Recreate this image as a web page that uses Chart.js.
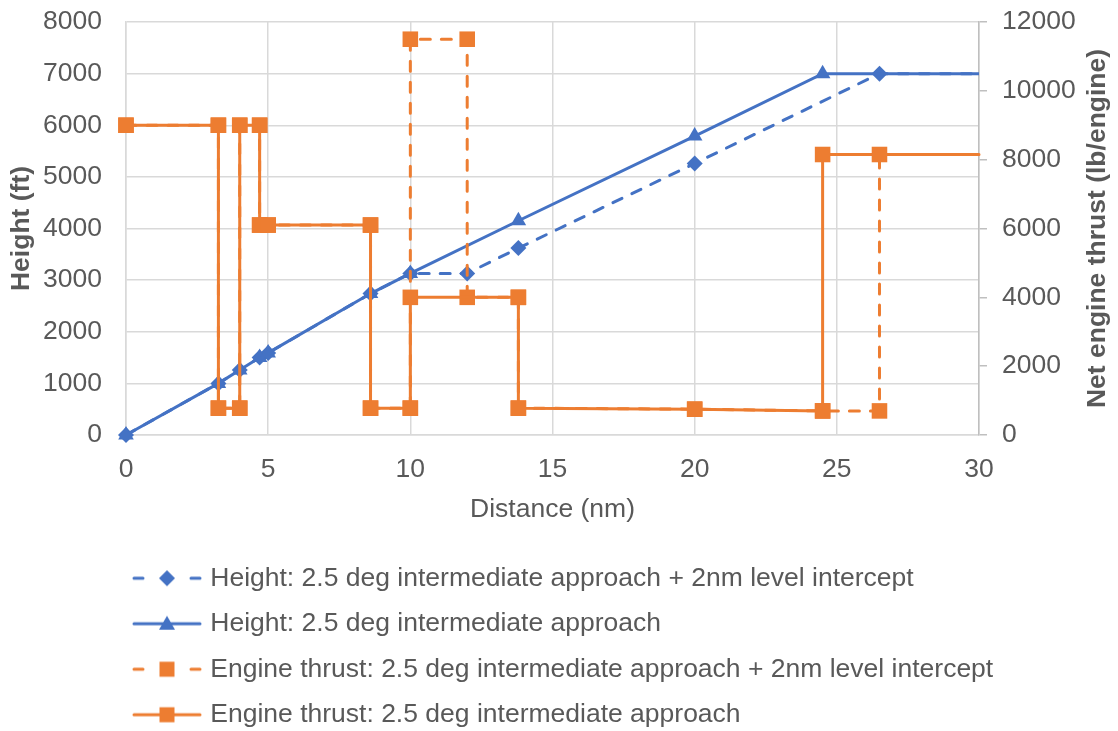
<!DOCTYPE html>
<html>
<head>
<meta charset="utf-8">
<script src="https://cdn.jsdelivr.net/npm/chart.js@4.4.1/dist/chart.umd.min.js"></script>
<style>
  html, body { margin: 0; padding: 0; background: #fff; }
  #wrap { width: 1118px; height: 731px; }
</style>
</head>
<body>
<div id="wrap"><canvas id="myChart"></canvas></div>
<script>
// distances (nm) and values
const heightLevelX = [0, 3.25, 4, 4.7, 5, 8.6, 10, 12, 13.8, 20, 26.5, 30];
const heightLevelY = [0, 1000, 1260, 1500, 1590, 2740, 3130, 3130, 3620, 5260, 7000, 7000];

const heightX = [0, 3.25, 4, 4.7, 5, 8.6, 10, 13.8, 20, 24.5, 30];
const heightY = [0, 1000, 1260, 1500, 1590, 2740, 3130, 4150, 5790, 7000, 7000];

const thrustLevelX = [0, 3.25, 3.25, 4, 4, 4.7, 4.7, 5, 8.6, 8.6, 10, 10, 12, 12, 13.8, 13.8, 20, 24.5, 26.5, 26.5, 30];
const thrustLevelY = [9000, 9000, 780, 780, 9000, 9000, 6100, 6100, 6100, 780, 780, 11500, 11500, 4000, 4000, 780, 750, 700, 700, 8150, 8150];

const thrustX = [0, 3.25, 3.25, 4, 4, 4.7, 4.7, 5, 8.6, 8.6, 10, 10, 13.8, 13.8, 20, 24.5, 24.5, 30];
const thrustY = [9000, 9000, 780, 780, 9000, 9000, 6100, 6100, 6100, 780, 780, 4000, 4000, 780, 750, 700, 8150, 8150];

const seriesNames = [
  'Height: 2.5 deg intermediate approach + 2nm level intercept',
  'Height: 2.5 deg intermediate approach',
  'Engine thrust: 2.5 deg intermediate approach + 2nm level intercept',
  'Engine thrust: 2.5 deg intermediate approach'
];

const BLUE = '#4472C4';
const ORANGE = '#ED7D31';
const TEXT = '#595959';
const GRID = '#D9D9D9';
const FS = 26.5;

const pts = (xs, ys) => xs.map((x, i) => ({ x: x, y: ys[i] }));
// no marker on the last point at the axis end
const rad = r => c => (c.raw && c.raw.x >= 30 ? 0 : r);
const plain = v => String(v);

// little line + marker pictures for the legend
function sample(color, dashed, shape) {
  const c = document.createElement('canvas');
  c.width = 70; c.height = 20;
  const g = c.getContext('2d');
  g.strokeStyle = color; g.fillStyle = color;
  g.lineWidth = 3; g.lineCap = 'round';
  g.beginPath();
  if (dashed) {
    g.moveTo(2, 10); g.lineTo(11, 10);
    g.moveTo(59, 10); g.lineTo(68, 10);
  } else {
    g.moveTo(2, 10); g.lineTo(68, 10);
  }
  g.stroke();
  g.beginPath();
  if (shape === 'diamond') {
    g.moveTo(35, 2); g.lineTo(43, 10); g.lineTo(35, 18); g.lineTo(27, 10);
  } else if (shape === 'triangle') {
    g.moveTo(35, 2); g.lineTo(43, 16); g.lineTo(27, 16);
  } else {
    g.rect(27.5, 2.5, 15, 15);
  }
  g.closePath();
  g.fill();
  return c;
}
const legendPics = [
  sample(BLUE, true, 'diamond'),
  sample(BLUE, false, 'triangle'),
  sample(ORANGE, true, 'square'),
  sample(ORANGE, false, 'square')
];

Chart.defaults.font.family = "'Liberation Sans', Arial, sans-serif";
Chart.defaults.font.size = FS;
Chart.defaults.color = TEXT;

// legend sits left under the plot; right axis title reads bottom to top
const placeBits = {
  id: 'placeBits',
  afterLayout(chart) {
    const lg = chart.legend;
    lg.left = 118;
    lg.top = 546;
    lg.right = 1118;
    lg.bottom = 731;
  },
  afterDraw(chart) {
    const ctx = chart.ctx;
    const area = chart.chartArea;
    ctx.save();
    ctx.translate(1098, (area.top + area.bottom) / 2);
    ctx.rotate(-Math.PI / 2);
    ctx.font = "bold " + FS + "px 'Liberation Sans', Arial, sans-serif";
    ctx.fillStyle = TEXT;
    ctx.textAlign = 'center';
    ctx.textBaseline = 'middle';
    ctx.fillText('Net engine thrust (lb/engine)', 0, 0);
    ctx.restore();
  }
};

const myChart = new Chart(document.getElementById('myChart'), {
  type: 'line',
  data: {
    datasets: [
      {
        label: seriesNames[0],
        data: pts(heightLevelX, heightLevelY),
        yAxisID: 'y',
        borderColor: BLUE, backgroundColor: BLUE,
        borderWidth: 3, borderDash: [10, 11], borderCapStyle: 'round',
        pointStyle: 'rectRot', pointRadius: rad(8),
        pointBorderColor: BLUE, pointBackgroundColor: BLUE, pointBorderWidth: 0,
        tension: 0, order: 4, clip: false
      },
      {
        label: seriesNames[1],
        data: pts(heightX, heightY),
        yAxisID: 'y',
        borderColor: BLUE, backgroundColor: BLUE,
        borderWidth: 3,
        pointStyle: 'triangle', pointRadius: rad(9),
        pointBorderColor: BLUE, pointBackgroundColor: BLUE, pointBorderWidth: 0,
        tension: 0, order: 3, clip: false
      },
      {
        label: seriesNames[2],
        data: pts(thrustLevelX, thrustLevelY),
        yAxisID: 'y2',
        borderColor: ORANGE, backgroundColor: ORANGE,
        borderWidth: 3, borderDash: [10, 11], borderCapStyle: 'round',
        pointStyle: 'rect', pointRadius: rad(11),
        pointBorderColor: ORANGE, pointBackgroundColor: ORANGE, pointBorderWidth: 0,
        tension: 0, order: 2, clip: false
      },
      {
        label: seriesNames[3],
        data: pts(thrustX, thrustY),
        yAxisID: 'y2',
        borderColor: ORANGE, backgroundColor: ORANGE,
        borderWidth: 3,
        pointStyle: 'rect', pointRadius: rad(11),
        pointBorderColor: ORANGE, pointBackgroundColor: ORANGE, pointBorderWidth: 0,
        tension: 0, order: 1, clip: false
      }
    ]
  },
  options: {
    responsive: true,
    maintainAspectRatio: false,
    animation: false,
    layout: { padding: { top: 22, left: 0, right: 0, bottom: 13 } },
    plugins: {
      tooltip: { enabled: false },
      legend: {
        position: 'bottom',
        align: 'start',
        labels: {
          usePointStyle: true,
          pointStyleWidth: 60,
          padding: 19,
          color: TEXT,
          font: { size: FS },
          sort: (a, b) => a.datasetIndex - b.datasetIndex,
          generateLabels(chart) {
            const items = Chart.defaults.plugins.legend.labels.generateLabels(chart);
            items.forEach(it => { it.pointStyle = legendPics[it.datasetIndex]; });
            return items;
          }
        }
      }
    },
    scales: {
      x: {
        type: 'linear',
        min: 0, max: 30,
        ticks: { stepSize: 5, padding: 19, color: TEXT, callback: plain },
        grid: { color: GRID, lineWidth: 1.5, drawTicks: false },
        border: { color: GRID, width: 1.5 },
        title: { display: true, text: 'Distance (nm)', color: TEXT, padding: 0, font: { size: FS } },
        afterFit(scale) { scale.height = 91; }
      },
      y: {
        position: 'left',
        min: 0, max: 8000,
        ticks: { stepSize: 1000, padding: 24, color: TEXT, callback: plain },
        grid: { color: GRID, lineWidth: 1.5, drawTicks: false },
        border: { color: GRID, width: 1.5 },
        title: { display: true, text: 'Height (ft)', color: TEXT, padding: { top: 6, bottom: 0 }, font: { size: FS, weight: 'bold' } },
        afterFit(scale) {
          scale.width = 126;
          scale.paddingTop = 0;
          scale.paddingBottom = 0;
        }
      },
      y2: {
        position: 'right',
        min: 0, max: 12000,
        ticks: { stepSize: 2000, padding: 15, color: TEXT, callback: plain },
        grid: { drawOnChartArea: false, drawTicks: true, tickLength: 8, color: '#BFBFBF', lineWidth: 1.5 },
        border: { color: '#BFBFBF', width: 1.5 },
        title: { display: false },
        afterFit(scale) {
          scale.width = 139;
          scale.paddingTop = 0;
          scale.paddingBottom = 0;
        }
      }
    }
  },
  plugins: [placeBits]
});
</script>
</body>
</html>
